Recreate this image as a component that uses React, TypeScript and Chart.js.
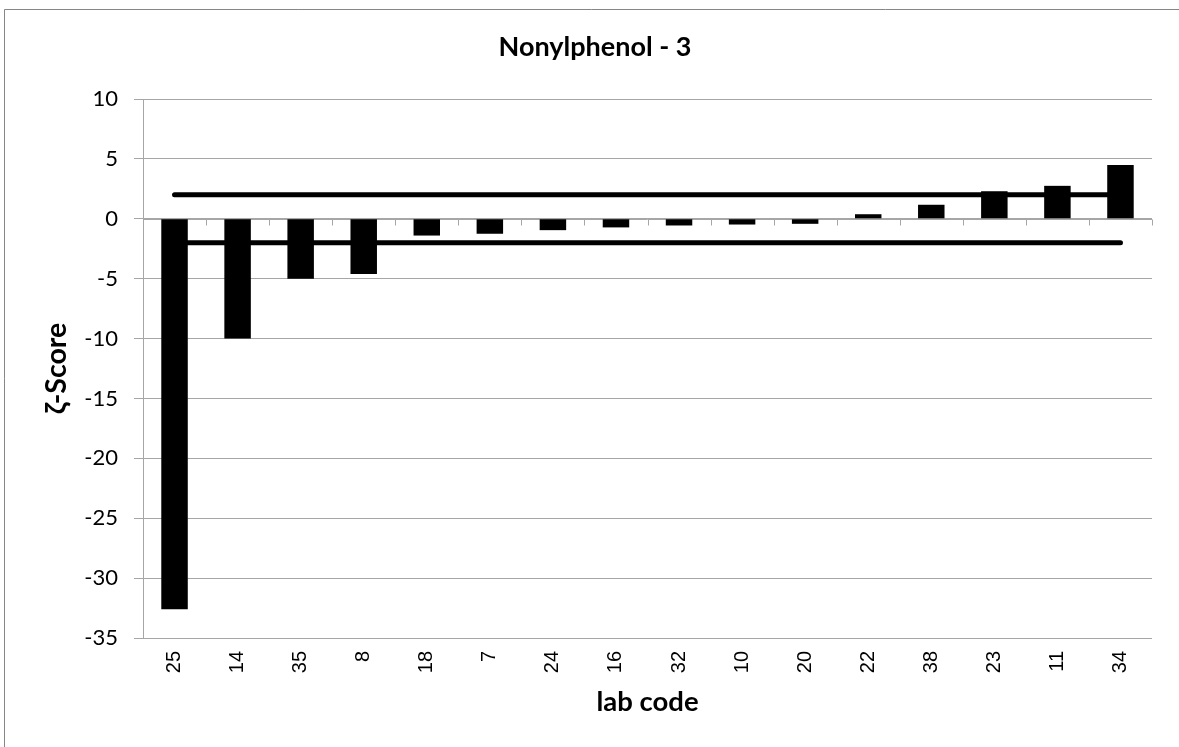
import React, { useEffect, useRef } from 'react';
import { Chart, registerables } from 'chart.js';

Chart.register(...registerables);

const labCodes: string[] = ['25', '14', '35', '8', '18', '7', '24', '16', '32', '10', '20', '22', '38', '23', '11', '34'];
const zetaScores: number[] = [-32.6, -10.0, -5.0, -4.6, -1.4, -1.25, -0.95, -0.72, -0.56, -0.48, -0.42, 0.38, 1.17, 2.3, 2.75, 4.5];
const upperLimit: number[] = [2, 2, 2, 2, 2, 2, 2, 2, 2, 2, 2, 2, 2, 2, 2, 2];
const lowerLimit: number[] = [-2, -2, -2, -2, -2, -2, -2, -2, -2, -2, -2, -2, -2, -2, -2, -2];
const yMin = -35;
const yMax = 10;
const yStep = 5;
const chartTitle = 'Nonylphenol - 3';
const xTitle = 'lab code';
const yTitle = 'ζ-Score';

const GRID = '#a6a6a6';
const CAL = 'Lato, "Open Sans", sans-serif';

const decorPlugin = {
  id: 'decor',
  beforeDraw(chart: any) {
    const ctx = chart.ctx;
    ctx.save();
    ctx.fillStyle = '#ffffff';
    ctx.fillRect(0, 0, chart.width, chart.height);
    ctx.strokeStyle = '#868686';
    ctx.lineWidth = 1;
    ctx.beginPath();
    ctx.moveTo(4.5, chart.height);
    ctx.lineTo(4.5, 9.5);
    ctx.lineTo(chart.width, 9.5);
    ctx.stroke();
    ctx.restore();
  },
  beforeDatasetsDraw(chart: any) {
    const ctx = chart.ctx;
    const x = chart.scales.x;
    const y = chart.scales.y;
    const y0 = Math.round(y.getPixelForValue(0)) + 0.5;
    const n = chart.data.labels.length;
    const w = (x.right - x.left) / n;
    ctx.save();
    ctx.strokeStyle = GRID;
    ctx.lineWidth = 1;
    ctx.beginPath();
    ctx.moveTo(x.left, y0);
    ctx.lineTo(x.right, y0);
    for (let k = 1; k <= n; k++) {
      const px = Math.round(x.left + k * w) + 0.5;
      ctx.moveTo(px, y0);
      ctx.lineTo(px, y0 + 6);
    }
    ctx.stroke();
    ctx.restore();
  },
  afterDraw(chart: any) {
    const ctx = chart.ctx;
    ctx.save();
    ctx.fillStyle = '#000000';
    ctx.font = 'bold 27px ' + CAL;
    ctx.textAlign = 'center';
    ctx.textBaseline = 'middle';
    ctx.fillText(chartTitle, 595, 47);
    ctx.restore();
  },
};

export default function App() {
  const ref = useRef<HTMLCanvasElement | null>(null);

  useEffect(() => {
    if (!ref.current) return;
    const chart = new Chart(ref.current, {
      type: 'bar',
      data: {
        labels: labCodes,
        datasets: [
          {
            type: 'line',
            label: 'upper',
            data: upperLimit,
            borderColor: '#000000',
            borderWidth: 5,
            borderCapStyle: 'round',
            pointRadius: 0,
            fill: false,
            order: 0,
          } as any,
          {
            type: 'line',
            label: 'lower',
            data: lowerLimit,
            borderColor: '#000000',
            borderWidth: 5,
            borderCapStyle: 'round',
            pointRadius: 0,
            fill: false,
            order: 0,
          } as any,
          {
            type: 'bar',
            label: 'ζ-Score',
            data: zetaScores,
            backgroundColor: '#000000',
            borderWidth: 0,
            categoryPercentage: 1,
            barPercentage: 0.42,
            order: 1,
          },
        ],
      },
      options: {
        animation: false,
        responsive: false,
        maintainAspectRatio: false,
        layout: { padding: { top: 99, left: 40, right: 27, bottom: 0 } },
        plugins: {
          legend: { display: false },
          title: { display: false },
          tooltip: { enabled: false },
        },
        scales: {
          x: {
            grid: { display: false, drawTicks: false },
            border: { display: false },
            ticks: {
              color: '#000000',
              font: { family: '"Liberation Sans", Arial, sans-serif', size: 20 },
              minRotation: 90,
              maxRotation: 90,
              padding: 13,
              autoSkip: false,
            },
            title: {
              display: true,
              text: xTitle,
              color: '#000000',
              font: { family: CAL, size: 27.5, weight: 'bold' },
              padding: { top: 0, bottom: 28 },
            },
            afterFit: (s: any) => {
              s.height = 109;
            },
          },
          y: {
            min: yMin,
            max: yMax,
            ticks: {
              stepSize: yStep,
              color: '#000000',
              font: { family: CAL, size: 22 },
              padding: 16,
            },
            grid: { color: GRID, lineWidth: 1, drawTicks: true, tickLength: 9 },
            border: { display: true, color: GRID, width: 1 },
            title: {
              display: true,
              text: yTitle,
              color: '#000000',
              font: { family: CAL, size: 28.5, weight: 'bold' },
              padding: { top: 0, bottom: 0 },
            },
            afterFit: (s: any) => {
              s.width = 103;
            },
          },
        },
      },
      plugins: [decorPlugin],
    });
    return () => chart.destroy();
  }, []);

  return (
    <div style={{ position: 'fixed', left: 0, top: 0, width: 1179, height: 747, background: '#fff' }}>
      <canvas ref={ref} width={1179} height={747} style={{ display: 'block', width: 1179, height: 747 }} />
    </div>
  );
}
